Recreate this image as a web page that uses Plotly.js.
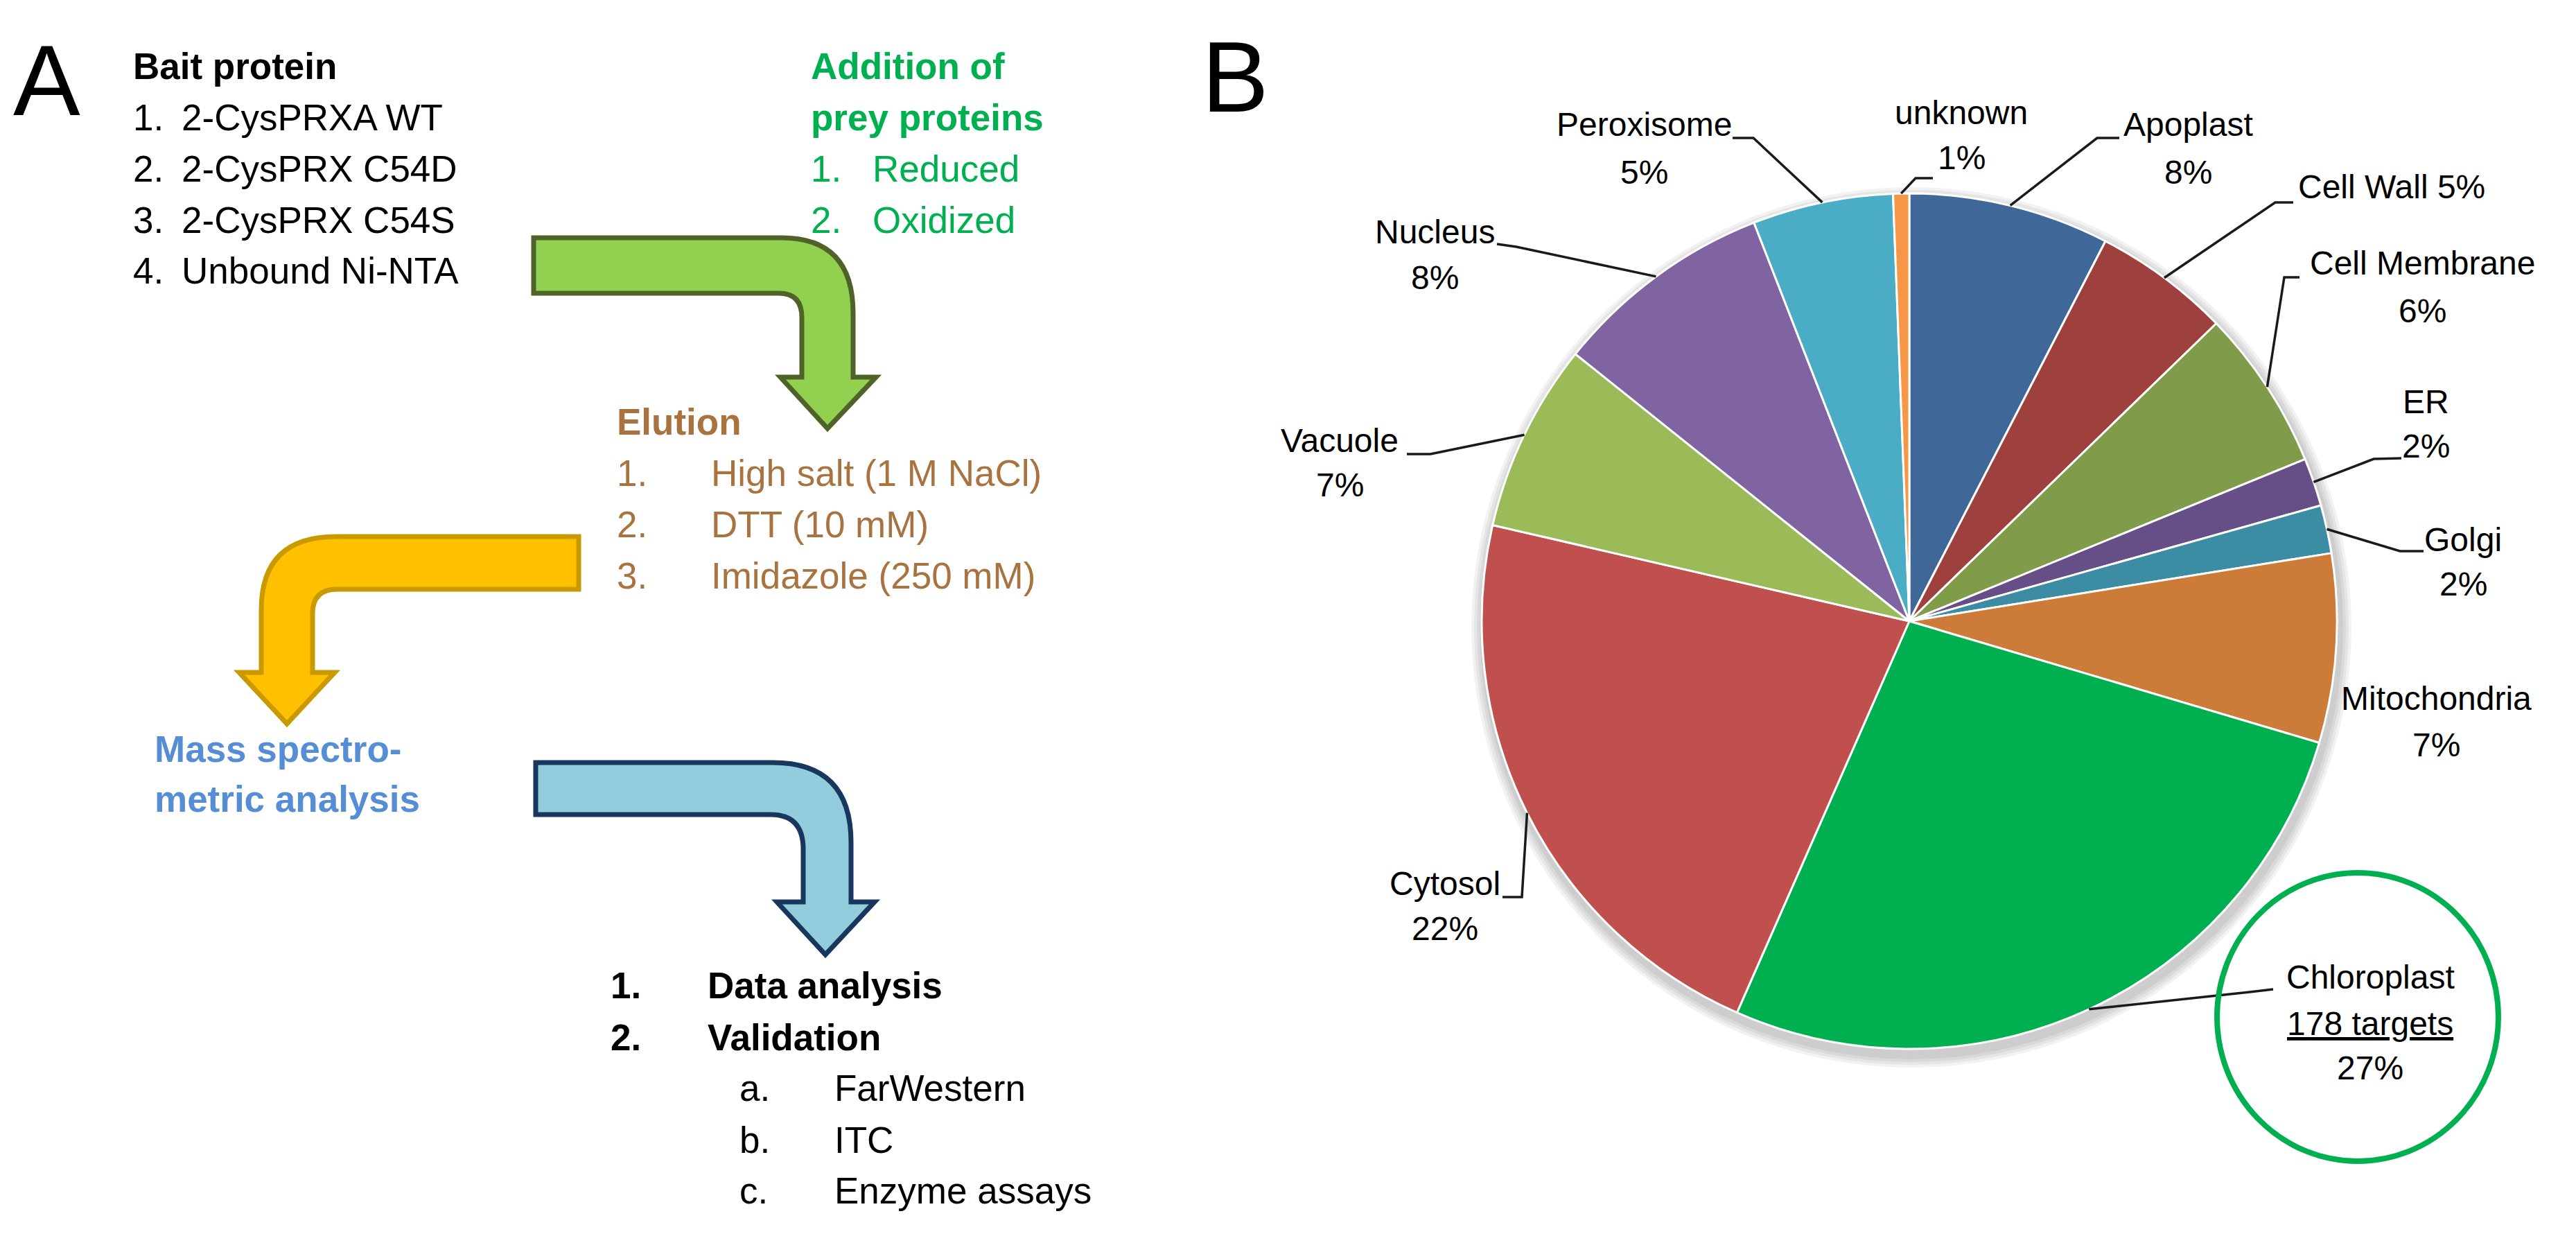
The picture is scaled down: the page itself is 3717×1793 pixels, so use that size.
<!DOCTYPE html>
<html><head><meta charset="utf-8">
<script src="https://cdn.plot.ly/plotly-3.0.1.min.js"></script>
<style>html,body{margin:0;padding:0;background:#fff;overflow:hidden}</style>
</head><body>
<div id="chart" style="width:3717px;height:1793px"></div>
<script>
// ---------------- DATA ----------------
// Panel B: subcellular localisation of targets (counts, clockwise from 12 o'clock)
const compartments = ['Apoplast','Cell Wall','Cell Membrane','ER','Golgi','Mitochondria','Chloroplast','Cytosol','Vacuole','Nucleus','Peroxisome','unknown'];
const targetCounts = [50, 34, 40, 12, 12, 47, 178, 145, 47, 55, 35, 4];

// Panel A: workflow text
const panelLetters = ['A', 'B'];
const baitTitle = 'Bait protein';
const baitItems = ['2-CysPRXA WT', '2-CysPRX C54D', '2-CysPRX C54S', 'Unbound Ni-NTA'];
const preyTitle = ['Addition of', 'prey proteins'];
const preyItems = ['Reduced', 'Oxidized'];
const elutionTitle = 'Elution';
const elutionItems = ['High salt (1 M NaCl)', 'DTT (10 mM)', 'Imidazole (250 mM)'];
const msTitle = ['Mass spectro-', 'metric analysis'];
const finalItems = ['Data analysis', 'Validation'];
const validationItems = ['FarWestern', 'ITC', 'Enzyme assays'];

// ---------------- STYLE / LAYOUT ----------------
const W = 3717, H = 1793;
const FONT = 'Liberation Sans, Arial, sans-serif';
const sliceColors = ['#3F6899','#9E403E','#809B49','#664F86','#3C8DA3','#CC7B38','#00B050','#C0504D','#9BBB59','#8064A2','#4BACC6','#F79646'];
const PIE = {cx: 2755, cy: 896, r: 617};

const annotations = [];
const shapes = [];

function txt(text, x, base, size, color, bold, anchor) {
  annotations.push({
    text: bold ? '<b>' + text + '</b>' : text,
    x: x, y: base - 0.36 * size, xref: 'x', yref: 'y',
    xanchor: anchor || 'left', yanchor: 'middle',
    showarrow: false, borderpad: 0,
    font: {family: FONT, size: size, color: color}
  });
}

const FS = 53;
// Panel letters
txt(panelLetters[0], 18, 168, 145, '#000', false);
txt(panelLetters[1], 1733, 163, 145, '#000', false);

// Bait protein block
txt(baitTitle, 191, 115, FS, '#000', true);
const baitBase = [189, 263, 337, 410];
baitItems.forEach((t, i) => { txt((i + 1) + '.', 191, baitBase[i], FS, '#000', false); txt(t, 261, baitBase[i], FS, '#000', false); });

// Prey block
const GREEN = '#00B050';
txt(preyTitle[0], 1169, 115, FS, GREEN, true);
txt(preyTitle[1], 1169, 189, FS, GREEN, true);
const preyBase = [263, 337];
preyItems.forEach((t, i) => { txt((i + 1) + '.', 1169, preyBase[i], FS, GREEN, false); txt(t, 1258, preyBase[i], FS, GREEN, false); });

// Elution block
const BROWN = '#A8733F';
txt(elutionTitle, 889, 628, FS, BROWN, true);
const eluBase = [702, 776, 850];
elutionItems.forEach((t, i) => { txt((i + 1) + '.', 889, eluBase[i], FS, BROWN, false); txt(t, 1025, eluBase[i], FS, BROWN, false); });

// Mass spec block
const MSBLUE = '#558ED5';
txt(msTitle[0], 222, 1100, FS, MSBLUE, true);
txt(msTitle[1], 222, 1172, FS, MSBLUE, true);

// Final block
const finBase = [1441, 1516];
finalItems.forEach((t, i) => { txt((i + 1) + '.', 880, finBase[i], FS, '#000', true); txt(t, 1020, finBase[i], FS, '#000', true); });
const valBase = [1589, 1664, 1737];
validationItems.forEach((t, i) => { txt('abc'[i] + '.', 1066, valBase[i], FS, '#000', false); txt(t, 1203, valBase[i], FS, '#000', false); });

// Bent arrows (decorative workflow arrows)
shapes.push({type: 'path', xref: 'x', yref: 'y', layer: 'above',
  path: 'M 770 343 L 1128 343 Q 1231 343 1231 452 L 1231 544 L 1264 544 L 1194 618 L 1126 544 L 1157 544 L 1157 458 Q 1157 423 1124 423 L 770 423 Z',
  fillcolor: '#92D050', line: {color: '#4F6228', width: 7}});
shapes.push({type: 'path', xref: 'x', yref: 'y', layer: 'above',
  path: 'M 835 774 L 485 774 Q 377 774 377 880 L 377 970 L 345 970 L 414 1044 L 483 970 L 451 970 L 451 885 Q 451 850 486 850 L 835 850 Z',
  fillcolor: '#FFC000', line: {color: '#C99A00', width: 7}});
shapes.push({type: 'path', xref: 'x', yref: 'y', layer: 'above',
  path: 'M 773 1100 L 1115 1100 Q 1228 1100 1228 1215 L 1228 1301 L 1262 1301 L 1191 1377 L 1121 1301 L 1159 1301 L 1159 1225 Q 1159 1175 1112 1175 L 773 1175 Z',
  fillcolor: '#93CDDD', line: {color: '#17375E', width: 7}});

// ---------------- PIE LABELS ----------------
const total = targetCounts.reduce((a, b) => a + b, 0);
const pctText = targetCounts.map(v => Math.round(v / total * 100) + '%');
const LFS = 48;
const labelSpec = {
  'Apoplast':      {x: 3157, base: [197, 266], leader: [[3058, 199], [3026, 199]]},
  'Cell Wall':     {x: 3315, base: [287], oneLine: true, leader: [[3309, 292], [3283, 292]]},
  'Cell Membrane': {x: 3495, base: [397, 466], leader: [[3318, 400], [3296, 400]]},
  'ER':            {x: 3500, base: [597, 661], leader: [[3465, 661], [3425, 662]]},
  'Golgi':         {x: 3554, base: [796, 860], leader: [[3497, 795], [3463, 795]]},
  'Mitochondria':  {x: 3515, base: [1025, 1092]},
  'Chloroplast':   {x: 3420, base: [1427, 1494, 1558], targets: true, leader: [[3280, 1427], [3246, 1431]]},
  'Cytosol':       {x: 2085, base: [1292, 1357], leader: [[2168, 1294], [2196, 1294]]},
  'Vacuole':       {x: 1933, base: [653, 717], leader: [[2030, 655], [2064, 655]]},
  'Nucleus':       {x: 2070, base: [352, 418], leader: [[2160, 352], [2188, 356]]},
  'Peroxisome':    {x: 2372, base: [197, 266], leader: [[2500, 199], [2530, 199]]},
  'unknown':       {x: 2830, base: [180, 245], leader: [[2789, 257], [2764, 257]]}
};

let cum = 0;
compartments.forEach((name, i) => {
  const v = targetCounts[i];
  const mid = (cum + v / 2) / total * 2 * Math.PI;
  cum += v;
  const ex = PIE.cx + PIE.r * Math.sin(mid), ey = PIE.cy - PIE.r * Math.cos(mid);
  const s = labelSpec[name];
  if (s.oneLine) {
    txt(name + ' ' + pctText[i], s.x, s.base[0], LFS, '#000', false, 'left');
  } else if (s.targets) {
    txt(name, s.x, s.base[0], LFS, '#000', false, 'center');
    txt('<u>' + v + ' targets</u>', s.x, s.base[1], LFS, '#000', false, 'center');
    txt(pctText[i], s.x, s.base[2], LFS, '#000', false, 'center');
  } else {
    txt(name, s.x, s.base[0], LFS, '#000', false, 'center');
    txt(pctText[i], s.x, s.base[1], LFS, '#000', false, 'center');
  }
  if (s.leader) {
    const p = s.leader;
    shapes.push({type: 'path', xref: 'x', yref: 'y', layer: 'above',
      path: `M ${p[0][0]} ${p[0][1]} L ${p[1][0]} ${p[1][1]} L ${ex.toFixed(1)} ${ey.toFixed(1)}`,
      line: {color: '#1a1a1a', width: 3.5}});
  }
});

// highlight circle round the chloroplast label
shapes.push({type: 'circle', xref: 'x', yref: 'y', layer: 'above', x0: 3199, x1: 3605, y0: 1259, y1: 1675,
  line: {color: '#00B050', width: 8}});

// soft shadow under the pie
for (let k = 1; k <= 4; k++) {
  const rr = PIE.r + 2 + k * 4;
  shapes.push({type: 'circle', xref: 'x', yref: 'y', layer: 'below',
    x0: PIE.cx + 3 - rr, x1: PIE.cx + 3 + rr, y0: PIE.cy + 9 - rr, y1: PIE.cy + 9 + rr,
    fillcolor: 'rgba(0,0,0,0.05)', line: {width: 0}});
}

const pieTrace = {
  type: 'pie', labels: compartments, values: targetCounts, sort: false,
  direction: 'clockwise', rotation: 0, textinfo: 'none', hoverinfo: 'skip',
  marker: {colors: sliceColors, line: {color: '#ffffff', width: 3}},
  domain: {x: [(PIE.cx - PIE.r) / W, (PIE.cx + PIE.r) / W], y: [1 - (PIE.cy + PIE.r) / H, 1 - (PIE.cy - PIE.r) / H]},
  showlegend: false
};
const helper = {type: 'scatter', x: [], y: [], mode: 'markers', hoverinfo: 'skip', showlegend: false};

const layout = {
  width: W, height: H, margin: {l: 0, r: 0, t: 0, b: 0},
  paper_bgcolor: '#ffffff', plot_bgcolor: 'rgba(0,0,0,0)',
  xaxis: {range: [0, W], visible: false, fixedrange: true, domain: [0, 1]},
  yaxis: {range: [H, 0], visible: false, fixedrange: true, domain: [0, 1]},
  showlegend: false, annotations: annotations, shapes: shapes,
  font: {family: FONT}
};
Plotly.newPlot('chart', [helper, pieTrace], layout, {staticPlot: true, displayModeBar: false});
</script>
</body></html>
